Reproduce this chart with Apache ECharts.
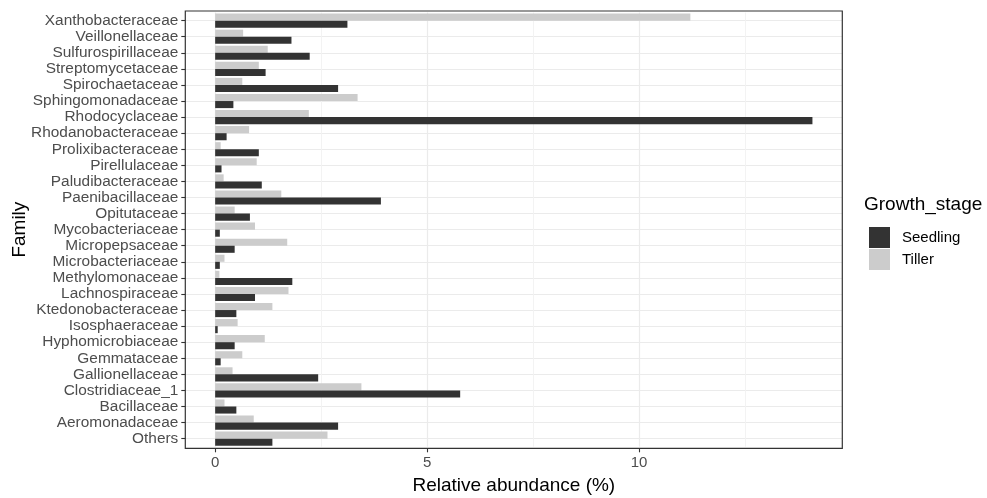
<!DOCTYPE html>
<html>
<head>
<meta charset="utf-8">
<script src="https://cdn.jsdelivr.net/npm/echarts@6/dist/echarts.min.js"></script>
<style>
  html, body { margin: 0; padding: 0; background: #ffffff; }
  #chart { width: 987px; height: 498px; }
</style>
</head>
<body>
<div id="chart"></div>
<script>
// Families, listed top to bottom
const families = [
  'Xanthobacteraceae', 'Veillonellaceae', 'Sulfurospirillaceae', 'Streptomycetaceae',
  'Spirochaetaceae', 'Sphingomonadaceae', 'Rhodocyclaceae', 'Rhodanobacteraceae',
  'Prolixibacteraceae', 'Pirellulaceae', 'Paludibacteraceae', 'Paenibacillaceae',
  'Opitutaceae', 'Mycobacteriaceae', 'Micropepsaceae', 'Microbacteriaceae',
  'Methylomonaceae', 'Lachnospiraceae', 'Ktedonobacteraceae', 'Isosphaeraceae',
  'Hyphomicrobiaceae', 'Gemmataceae', 'Gallionellaceae', 'Clostridiaceae_1',
  'Bacillaceae', 'Aeromonadaceae', 'Others'
];

// Relative abundance (%) per growth stage
const seedling = [
  3.12, 1.80, 2.23, 1.19, 2.90, 0.43, 14.09, 0.27, 1.03, 0.15, 1.10, 3.91, 0.82, 0.11,
  0.46, 0.11, 1.82, 0.94, 0.50, 0.06, 0.46, 0.13, 2.43, 5.78, 0.50, 2.90, 1.35
];
const tiller = [
  11.21, 0.66, 1.24, 1.03, 0.64, 3.36, 2.21, 0.80, 0.13, 0.98, 0.20, 1.56, 0.46, 0.94,
  1.70, 0.22, 0.10, 1.73, 1.35, 0.53, 1.17, 0.64, 0.41, 3.45, 0.22, 0.91, 2.65
];

const majorTicks = [0, 5, 10];
const minorTicks = [2.5, 7.5, 12.5];

// Panel geometry: the discrete axis is padded by 0.6 of a band beyond the outer categories
const panel = { left: 185.3, top: 11, width: 657, height: 437.3 };
const nCat = families.length;
const unit = panel.height / (nCat - 1 + 1.2);
const gridTop = panel.top + 0.1 * unit;
const gridHeight = nCat * unit;

const xMax = Math.max(...seedling, ...tiller);
const xMin = -0.05 * xMax;
const xTop = 1.05 * xMax;

const FONT = '"Liberation Sans", Arial, Helvetica, sans-serif';

const chart = echarts.init(document.getElementById('chart'), null, { renderer: 'canvas' });

const gridLines = [
  ...minorTicks.map(v => ({ xAxis: v, lineStyle: { color: '#f2f2f2', width: 0.9, type: 'solid' } })),
  ...majorTicks.map(v => ({ xAxis: v, lineStyle: { color: '#ebebeb', width: 1.2, type: 'solid' } }))
];

chart.setOption({
  animation: false,
  backgroundColor: '#ffffff',
  textStyle: { fontFamily: FONT },
  grid: {
    left: panel.left,
    top: gridTop,
    width: panel.width,
    height: gridHeight,
    containLabel: false,
    outerBoundsMode: 'none'
  },
  xAxis: {
    type: 'value',
    min: xMin,
    max: xTop,
    offset: panel.top + panel.height - (gridTop + gridHeight),
    axisLine: { show: false, onZero: false },
    splitLine: { show: false },
    axisTick: {
      show: true, customValues: majorTicks, length: 4,
      lineStyle: { color: '#333333', width: 1.1 }
    },
    axisLabel: {
      customValues: majorTicks, color: '#4d4d4d', fontSize: 15, margin: 7.5,
      fontFamily: FONT
    },
    name: 'Relative abundance (%)',
    nameLocation: 'middle',
    nameGap: 28,
    nameMoveOverlap: false,
    nameTextStyle: { color: '#000000', fontSize: 19, fontFamily: FONT }
  },
  yAxis: {
    type: 'category',
    data: families,
    inverse: true,
    axisLine: { show: false, onZero: false },
    axisTick: {
      show: true, alignWithLabel: true, length: 4, interval: 0,
      lineStyle: { color: '#333333', width: 1.1 }
    },
    splitLine: {
      show: true, alignWithLabel: true, interval: 0,
      lineStyle: { color: '#ebebeb', width: 1.2 }
    },
    axisLabel: {
      interval: 0, color: '#4d4d4d', fontSize: 15.4, margin: 7, fontFamily: FONT,
      padding: [2, 0, 0, 0]
    },
    name: 'Family',
    nameLocation: 'middle',
    nameGap: 156,
    nameRotate: 90,
    nameMoveOverlap: false,
    nameTextStyle: { color: '#000000', fontSize: 19, fontFamily: FONT }
  },
  legend: {
    data: ['Seedling', 'Tiller'],
    orient: 'vertical',
    left: 864,
    top: 222,
    itemWidth: 21,
    itemHeight: 21,
    itemGap: 1,
    icon: 'rect',
    selectedMode: false,
    textStyle: { color: '#000000', fontSize: 15, fontFamily: FONT, padding: [0, 0, 0, 7] }
  },
  graphic: [
    {
      type: 'text',
      left: 864,
      top: 195,
      style: { text: 'Growth_stage', fill: '#000000', font: '19px ' + FONT }
    },
    {
      type: 'rect',
      shape: { x: panel.left, y: panel.top, width: panel.width, height: panel.height },
      style: { fill: 'none', stroke: '#333333', lineWidth: 1.2 },
      z: 100,
      silent: true
    }
  ],
  series: [
    {
      name: 'gridlines',
      type: 'line',
      data: [],
      silent: true,
      z: 0,
      markLine: {
        silent: true,
        z: 0,
        symbol: 'none',
        label: { show: false },
        animation: false,
        data: gridLines
      }
    },
    {
      name: 'Tiller',
      type: 'bar',
      data: tiller,
      barWidth: '44%',
      barGap: '0%',
      itemStyle: { color: '#cccccc' },
      z: 2
    },
    {
      name: 'Seedling',
      type: 'bar',
      data: seedling,
      barWidth: '44%',
      barGap: '0%',
      itemStyle: { color: '#333333' },
      z: 2
    }
  ]
});
</script>
</body>
</html>
